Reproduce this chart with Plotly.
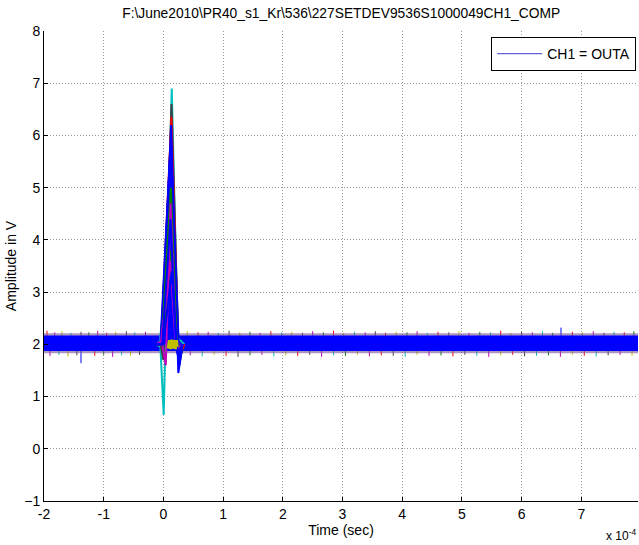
import plotly.graph_objects as go

# ---------------- data (time in units of 1e-4 s, amplitude in V) ----------------
title_text = "F:\\June2010\\PR40_s1_Kr\\536\\227SETDEV9536S1000049CH1_COMP"
x_ticks = [-2, -1, 0, 1, 2, 3, 4, 5, 6, 7]
y_ticks = [-1, 0, 1, 2, 3, 4, 5, 6, 7, 8]

# baseline noise band envelope (blue core) over the whole record
band_t = [-2.0, 7.95]
band_hi = [2.17, 2.17]
band_lo = [1.87, 1.87]
# coloured fringe just outside the band
fringe_hi = [2.21, 2.21]
fringe_lo = [1.83, 1.83]

# individual noise spikes: time, extreme value, colour code
spike_t = [-1.95, -1.82, -1.70, -1.55, -1.38, -1.25, -1.10, -0.95, -0.80, -0.62, -0.48, -0.30,
           0.40, 0.58, 0.75, 0.92, 1.10, 1.28, 1.45, 1.62, 1.80, 1.98, 2.15, 2.33, 2.50,
           2.68, 2.85, 3.02, 3.20, 3.38, 3.55, 3.72, 3.90, 4.08, 4.25, 4.42, 4.60, 4.78,
           4.95, 5.12, 5.30, 5.48, 5.65, 5.82, 6.00, 6.18, 6.35, 6.52, 6.66, 6.85, 7.02,
           7.20, 7.38, 7.55, 7.72, 7.88,
           -1.90, -1.75, -1.60, -1.45, -1.38, -1.15, -1.00, -0.85, -0.70, -0.55, -0.40,
           0.45, 0.65, 0.85, 1.05, 1.25, 1.45, 1.65, 1.85, 2.05, 2.25, 2.45, 2.65, 2.85,
           3.05, 3.25, 3.45, 3.65, 3.85, 4.05, 4.25, 4.45, 4.65, 4.85, 5.05, 5.25, 5.45,
           5.65, 5.85, 6.05, 6.25, 6.45, 6.65, 6.85, 7.05, 7.25, 7.45, 7.65, 7.85]
spike_v = [2.26, 2.23, 2.25, 2.22, 2.24, 2.23, 2.26, 2.22, 2.24, 2.25, 2.23, 2.24,
           2.25, 2.23, 2.24, 2.22, 2.26, 2.23, 2.24, 2.22, 2.25, 2.23, 2.24, 2.22, 2.25,
           2.23, 2.26, 2.22, 2.24, 2.23, 2.25, 2.22, 2.24, 2.23, 2.25, 2.22, 2.24, 2.23,
           2.25, 2.22, 2.24, 2.23, 2.26, 2.22, 2.24, 2.23, 2.25, 2.22, 2.32, 2.24, 2.23,
           2.25, 2.22, 2.24, 2.23, 2.25,
           1.78, 1.80, 1.77, 1.79, 1.64, 1.78, 1.80, 1.76, 1.79, 1.78, 1.80,
           1.79, 1.77, 1.80, 1.78, 1.76, 1.79, 1.80, 1.77, 1.79, 1.78, 1.80, 1.76, 1.79,
           1.78, 1.80, 1.77, 1.79, 1.78, 1.76, 1.80, 1.78, 1.79, 1.77, 1.80, 1.78, 1.76,
           1.79, 1.80, 1.77, 1.78, 1.79, 1.76, 1.80, 1.78, 1.77, 1.79, 1.80, 1.78]
spike_c = ["r", "m", "y", "c", "k", "g", "m", "r", "y", "k", "c", "m",
           "y", "r", "m", "c", "k", "y", "g", "m", "r", "c", "y", "k", "m",
           "g", "r", "y", "c", "m", "k", "r", "y", "g", "m", "c", "r", "k",
           "y", "m", "g", "c", "r", "y", "k", "m", "c", "g", "b", "r", "y",
           "m", "k", "c", "r", "g",
           "m", "c", "y", "k", "b", "r", "g", "m", "c", "y", "k",
           "m", "c", "y", "r", "k", "g", "m", "c", "y", "r", "k", "m", "c",
           "g", "y", "m", "r", "k", "c", "y", "m", "g", "r", "k", "c", "m",
           "y", "r", "k", "c", "g", "m", "y", "r", "c", "k", "m", "y"]

# pulse records per colour (records separated by None)
cyan_t = [-0.12, -0.05, 0.005, 0.14, 0.24, 0.28, 0.35, None,
          -0.12, -0.06, 0.115, 0.22, 0.26, 0.35]
cyan_v = [2.00, 1.95, 0.65, 6.90, 2.20, 1.85, 2.00, None,
          2.00, 2.05, 4.10, 2.00, 2.10, 2.00]
black_t = [-0.12, -0.05, 0.00, 0.135, 0.25, 0.28, 0.35, None,
           -0.12, -0.03, 0.13, 0.24, 0.27, 0.35]
black_v = [2.00, 2.00, 1.70, 6.60, 2.00, 1.75, 2.00, None,
           2.00, 2.05, 4.50, 2.10, 1.80, 2.00]
red_t = [-0.12, -0.04, 0.135, 0.245, 0.27, 0.35, None,
         -0.12, -0.02, 0.125, 0.23, 0.26, 0.35]
red_v = [2.00, 2.00, 6.35, 2.10, 1.80, 2.00, None,
         2.00, 2.00, 5.00, 2.00, 1.85, 2.00]
# one blue record drawn filled (dense overlapping blue records form a solid spike)
blue_core_t = [-0.04, 0.13, 0.235]
blue_core_v = [2.00, 6.15, 2.00]
blueA_t = [-0.12, -0.03, 0.13, 0.24, 0.25, 0.32, None,
           -0.12, -0.05, 0.11, 0.23, 0.26, 0.32, None,
           -0.12, -0.01, 0.15, 0.25, 0.27, 0.32, None,
           -0.12, -0.04, 0.12, 0.22, 0.26, 0.32, None,
           -0.12, -0.02, 0.14, 0.23, 0.25, 0.32]
blueA_v = [2.00, 2.00, 6.20, 2.00, 1.45, 2.00, None,
           2.00, 2.00, 5.60, 2.10, 1.80, 2.00, None,
           2.00, 2.00, 5.20, 1.90, 1.60, 2.00, None,
           2.00, 2.00, 5.80, 2.00, 1.70, 2.00, None,
           2.00, 2.00, 5.40, 2.00, 1.75, 2.00]
green_t = [-0.12, -0.03, 0.125, 0.22, 0.25, 0.32, None,
           -0.12, -0.01, 0.13, 0.21, 0.24, 0.32]
green_v = [2.00, 2.00, 5.00, 2.10, 1.85, 2.00, None,
           2.00, 2.00, 3.80, 2.00, 1.90, 2.00]
magenta_t = [-0.12, -0.02, 0.04, 0.12, 0.21, 0.24, 0.32, None,
             -0.12, -0.04, 0.115, 0.20, 0.23, 0.32]
magenta_v = [2.00, 2.00, 1.60, 4.70, 2.00, 1.85, 2.00, None,
             2.00, 2.05, 3.60, 2.10, 1.90, 2.00]
blueB_t = [-0.12, -0.02, 0.12, 0.21, 0.24, 0.32, None,
           -0.12, 0.00, 0.14, 0.22, 0.25, 0.32]
blueB_v = [2.00, 2.00, 4.40, 2.00, 1.80, 2.00, None,
           2.00, 2.00, 3.40, 2.00, 1.85, 2.00]
yellow_t = [0.08, 0.10, 0.12, 0.14, 0.16, 0.18, 0.20, 0.22, 0.23]
yellow_v = [1.92, 2.08, 1.91, 2.09, 1.92, 2.08, 1.91, 2.08, 1.95]

legend_name = "CH1 = OUTA"

# ---------------- figure ----------------
colors = {"b": "#0000ff", "g": "#008000", "r": "#ff0000", "c": "#00bfbf",
          "m": "#bf00bf", "y": "#bfbf00", "k": "#404040"}

fig = go.Figure()

# spikes (grouped by colour, drawn as vertical segments from the band edge)
for code, col in colors.items():
    xs, ys = [], []
    for t, v, c in zip(spike_t, spike_v, spike_c):
        if c != code:
            continue
        base = 2.1 if v > 2.0 else 1.93
        xs += [t, t, None]
        ys += [base, v, None]
    if xs:
        fig.add_trace(go.Scatter(x=xs, y=ys, mode="lines", line=dict(color=col, width=1),
                                 showlegend=False, hoverinfo="skip"))

# fringe bands
fig.add_trace(go.Scatter(x=band_t, y=fringe_hi, mode="lines", line=dict(width=0),
                         showlegend=False, hoverinfo="skip"))
fig.add_trace(go.Scatter(x=band_t, y=fringe_lo, mode="lines", line=dict(width=0),
                         fill="tonexty", fillcolor="rgba(120,80,150,0.6)",
                         showlegend=False, hoverinfo="skip"))
# blue core band
fig.add_trace(go.Scatter(x=band_t, y=band_hi, mode="lines", line=dict(width=0),
                         showlegend=False, hoverinfo="skip"))
fig.add_trace(go.Scatter(x=band_t, y=band_lo, mode="lines", line=dict(width=0),
                         fill="tonexty", fillcolor="#0000ff",
                         showlegend=False, hoverinfo="skip"))

for tt, vv, code in [(cyan_t, cyan_v, "c"), (black_t, black_v, "k"), (red_t, red_v, "r")]:
    fig.add_trace(go.Scatter(x=tt, y=vv, mode="lines",
                             line=dict(color=colors[code], width=2),
                             showlegend=False, hoverinfo="skip"))
fig.add_trace(go.Scatter(x=blue_core_t, y=blue_core_v, mode="lines", fill="toself",
                         fillcolor=colors["b"], line=dict(color=colors["b"], width=1),
                         showlegend=False, hoverinfo="skip"))
for tt, vv, code in [(blueA_t, blueA_v, "b"), (green_t, green_v, "g"),
                     (magenta_t, magenta_v, "m"), (blueB_t, blueB_v, "b")]:
    fig.add_trace(go.Scatter(x=tt, y=vv, mode="lines",
                             line=dict(color=colors[code], width=2),
                             showlegend=False, hoverinfo="skip"))
fig.add_trace(go.Scatter(x=yellow_t, y=yellow_v, mode="lines",
                         line=dict(color=colors["y"], width=3),
                         showlegend=False, hoverinfo="skip"))
# legend entry for the channel (thin blue line, as in the legend box)
fig.add_trace(go.Scatter(x=[None], y=[None], mode="lines", name=legend_name,
                         line=dict(color="#3a3ad0", width=1), showlegend=True))

font_family = "Arial, Liberation Sans, sans-serif"
fig.update_layout(
    width=639, height=545,
    margin=dict(l=44, r=1, t=31, b=44, autoexpand=False),
    paper_bgcolor="white", plot_bgcolor="white",
    font=dict(family=font_family, size=13, color="black"),
    title=dict(text=title_text, x=0.534, xanchor="center", y=0.975, yanchor="middle",
               font=dict(size=13.8)),
    showlegend=True,
    legend=dict(x=0.997, y=0.987, xanchor="right", yanchor="top",
                bgcolor="white", bordercolor="black", borderwidth=1,
                font=dict(size=14), tracegroupgap=0, itemwidth=45),
)
grid_dash = "1px,2px"
fig.update_xaxes(range=[-2, 7.95], tickvals=x_ticks, ticktext=[str(v) for v in x_ticks],
                 showgrid=True, gridcolor="#9a9a9a", griddash=grid_dash, gridwidth=1,
                 showline=True, linecolor="black", linewidth=1, mirror=False,
                 ticks="inside", ticklen=4, tickcolor="black", zeroline=False,
                 automargin=False,
                 title=dict(text="Time (sec)", standoff=1, font=dict(size=14)),
                 tickfont=dict(size=14))
fig.update_yaxes(range=[-1, 8], tickvals=y_ticks,
                 showgrid=True, gridcolor="#9a9a9a", griddash=grid_dash, gridwidth=1,
                 showline=True, linecolor="black", linewidth=1, mirror=False,
                 ticks="inside", ticklen=4, tickcolor="black", zeroline=False,
                 automargin=False,
                 title=dict(text="Amplitude in V", standoff=4, font=dict(size=14)),
                 tickfont=dict(size=14))
fig.add_annotation(text="x 10<sup>-4</sup>", xref="paper", yref="paper",
                   x=(604 - 44) / 594, y=-0.072, xanchor="left", yanchor="middle",
                   showarrow=False, font=dict(size=12))

fig.write_html("out.html", config={"displayModeBar": False},
               post_script="document.body.style.margin='0';"
                           "document.body.style.overflow='hidden';")
